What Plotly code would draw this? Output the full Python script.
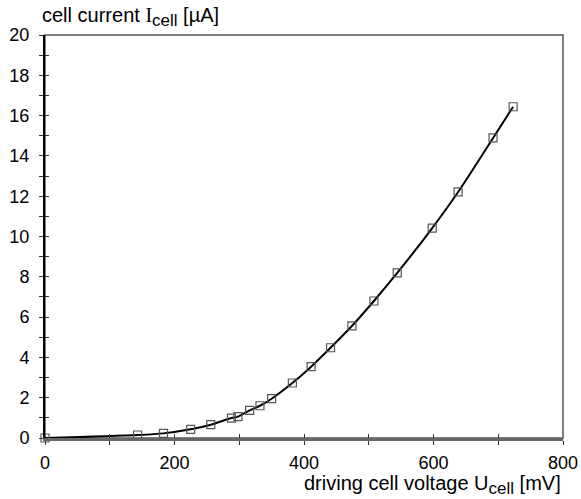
import plotly.graph_objects as go

voltage_mV = [0, 143, 183, 225, 256, 288, 298, 316, 332, 350, 382, 411, 441,
              474, 508, 544, 598, 638, 692, 723]
current_uA = [0.0, 0.15, 0.23, 0.43, 0.66, 0.99, 1.06, 1.37, 1.60, 1.95, 2.73,
              3.54, 4.48, 5.56, 6.80, 8.19, 10.42, 12.21, 14.89, 16.44]

x_ticks = [0, 200, 400, 600, 800]
y_ticks = [0, 2, 4, 6, 8, 10, 12, 14, 16, 18, 20]

FONT = "Liberation Sans, Arial, sans-serif"
SERIF = "Liberation Serif, Times New Roman, serif"

fig = go.Figure()
fig.add_trace(go.Scatter(
    x=voltage_mV, y=current_uA, mode="lines",
    line=dict(color="black", width=2, shape="spline", smoothing=0.8),
    hoverinfo="skip", showlegend=False))
fig.add_trace(go.Scatter(
    x=voltage_mV, y=current_uA, mode="markers",
    marker=dict(symbol="square-open", size=8, color="#555555",
                line=dict(width=1.2, color="#555555")),
    showlegend=False, cliponaxis=False))

common_x = dict(range=[0, 800], tickvals=x_ticks, showgrid=False, zeroline=False, automargin=False)
common_y = dict(range=[0, 20], tickvals=y_ticks, showgrid=False, zeroline=False, automargin=False)

fig.update_layout(
    width=581, height=499,
    margin=dict(l=45, r=18, t=35, b=61),
    plot_bgcolor="white", paper_bgcolor="white",
    font=dict(family=FONT, size=18, color="black"),
    xaxis=dict(**common_x, showline=True, linecolor="#666666", linewidth=3,
               ticks="outside", ticklen=4, tickwidth=1, tickcolor="#333333",
               minor=dict(dtick=100, ticks="outside", ticklen=4, tickcolor="#333333", tickwidth=1),
               ticklabelstandoff=2, tickfont=dict(size=18)),
    yaxis=dict(**common_y, showline=True, linecolor="black", linewidth=2,
               ticks="outside", ticklen=4, tickwidth=1, tickcolor="#333333",
               minor=dict(dtick=1, ticks="outside", ticklen=4, tickcolor="#333333", tickwidth=1),
               ticklabelstandoff=6, tickfont=dict(size=18)),
    xaxis2=dict(**common_x, overlaying="x", side="bottom", anchor="y",
                ticks="inside", ticklen=4, tickwidth=1, tickcolor="#333333",
                minor=dict(dtick=100, ticks="inside", ticklen=4, tickcolor="#333333", tickwidth=1),
                showticklabels=False, showline=False),
    yaxis2=dict(**common_y, overlaying="y", side="left", anchor="x",
                ticks="inside", ticklen=4, tickwidth=1, tickcolor="#333333",
                minor=dict(dtick=1, ticks="inside", ticklen=4, tickcolor="#333333", tickwidth=1),
                showticklabels=False, showline=False),
    shapes=[dict(type="rect", xref="paper", yref="paper", x0=0, y0=0, x1=1, y1=1,
                 line=dict(color="#555555", width=1.5), layer="below")],
    annotations=[
        dict(text="cell current <span style='font-family:" + SERIF + "'>I</span>"
                  "<sub><span style='font-size:17px'>cell</span></sub> [µA]",
             xref="paper", yref="paper", x=-0.01, y=1.0, yshift=18,
             xanchor="left", yanchor="middle", showarrow=False,
             font=dict(size=20, family=FONT)),
        dict(text="driving cell voltage U<sub><span style='font-size:17px'>cell</span></sub> [mV]",
             xref="paper", yref="paper", x=1.0, y=0, yshift=-47,
             xanchor="right", yanchor="middle", showarrow=False,
             font=dict(size=20, family=FONT)),
    ],
)
# invisible trace to activate the overlay axes that draw the inner half of the ticks
fig.add_trace(go.Scatter(x=[0], y=[0], xaxis="x2", yaxis="y2", mode="markers",
                         marker=dict(opacity=0), hoverinfo="skip", showlegend=False))

fig.write_html("out.html")
